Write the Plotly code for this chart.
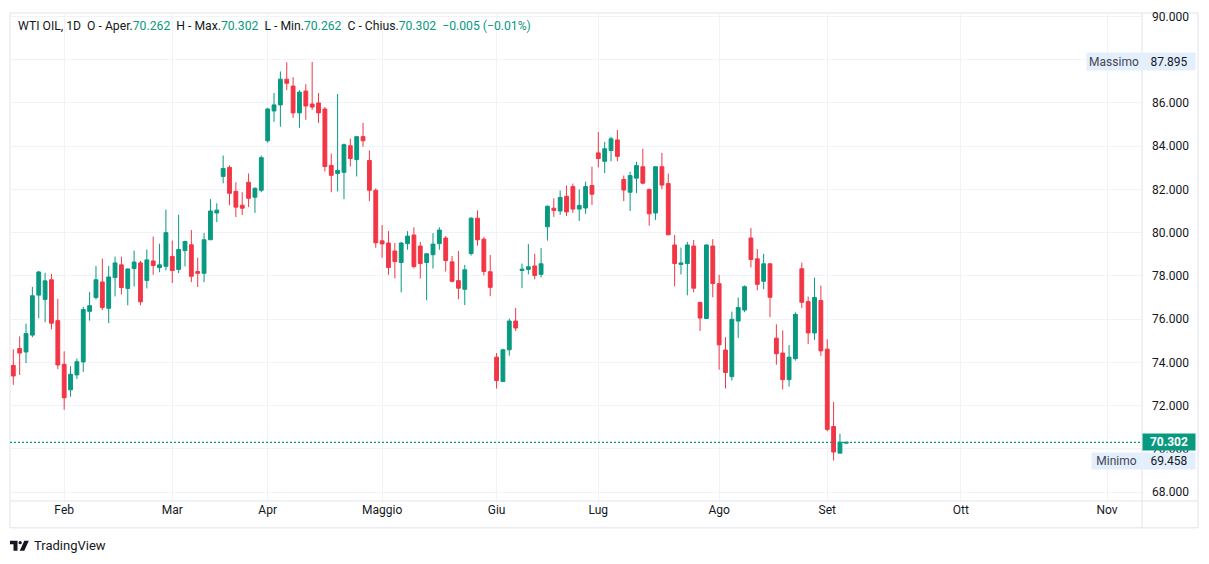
import plotly.graph_objects as go

# ---------------- data ----------------
opens = [73.86, 74.64, 74.48, 75.26, 77.11, 76.91, 77.82, 75.93, 73.91, 72.73,
         73.42, 74.02, 76.36, 77.00, 77.72, 76.50, 77.92, 78.51, 77.42, 78.34,
         78.60, 77.79, 78.69, 78.38, 78.44, 78.90, 78.30, 79.17, 79.44, 78.20,
         78.12, 79.67, 80.91, 82.60, 83.02, 81.91, 81.27, 82.33, 81.64, 81.96,
         84.25, 85.63, 85.91, 87.10, 86.78, 85.54, 86.55, 85.95, 86.00, 85.72,
         83.11, 82.74, 82.79, 84.02, 83.38, 84.44, 83.34, 81.96, 79.62, 79.52,
         79.15, 78.62, 79.49, 79.89, 79.38, 78.62, 78.98, 79.49, 79.75, 78.65,
         77.78, 77.38, 79.03, 80.67, 79.70, 78.19, 74.24, 73.11, 74.58, 75.91,
         78.25, 78.30, 78.46, 78.07, 80.27, 81.13, 81.00, 81.68, 82.13, 81.09,
         81.14, 82.18, 83.69, 83.30, 83.80, 84.29, 82.46, 81.87, 82.52, 83.05,
         82.00, 80.91, 83.05, 82.27, 79.43, 78.53, 78.57, 79.38, 76.77, 76.03,
         79.38, 77.64, 74.57, 73.34, 75.91, 76.42, 79.75, 78.79, 77.75, 78.56,
         75.12, 74.43, 73.20, 74.17, 78.33, 76.81, 75.36, 76.86, 74.61, 71.03,
         69.80, 70.262]
highs = [74.60, 75.20, 75.79, 77.49, 78.23, 78.14, 78.09, 76.94, 74.51, 73.82,
         74.18, 76.57, 77.26, 78.46, 78.80, 78.46, 78.89, 78.89, 78.34, 79.17,
         78.69, 79.22, 79.82, 79.49, 81.06, 79.63, 80.83, 79.63, 80.12, 78.84,
         79.99, 81.55, 81.36, 83.57, 83.11, 82.33, 81.87, 82.74, 82.10, 83.57,
         85.77, 86.46, 87.46, 87.88, 87.19, 86.59, 86.87, 87.895, 86.46, 85.81,
         83.66, 86.41, 84.12, 84.35, 84.44, 85.08, 83.80, 82.05, 80.35, 80.07,
         79.52, 79.57, 80.07, 80.25, 79.57, 79.06, 79.98, 80.25, 79.84, 78.92,
         79.15, 78.51, 80.71, 81.03, 79.80, 78.97, 74.43, 74.63, 76.02, 76.51,
         78.57, 79.47, 79.02, 79.29, 81.26, 81.58, 81.95, 82.18, 82.27, 82.00,
         82.36, 83.05, 84.66, 84.20, 84.43, 84.75, 82.64, 82.82, 83.28, 83.88,
         82.04, 83.05, 83.69, 82.73, 79.89, 79.31, 79.57, 79.66, 76.81, 79.46,
         79.70, 78.05, 75.16, 76.35, 77.00, 77.56, 80.21, 79.24, 79.02, 78.56,
         75.76, 75.48, 74.80, 76.31, 78.61, 77.04, 77.92, 77.55, 75.07, 72.17,
         70.70, 70.302]
lows = [72.96, 73.42, 73.97, 75.16, 76.04, 75.85, 75.53, 73.69, 71.81, 72.41,
        73.23, 73.56, 75.93, 76.91, 76.42, 75.81, 77.05, 77.14, 76.64, 77.51,
        76.64, 77.42, 78.05, 78.17, 78.25, 77.67, 78.13, 78.44, 77.71, 77.48,
        77.71, 79.67, 80.49, 82.28, 81.27, 80.72, 80.81, 81.18, 80.91, 81.87,
        84.16, 85.13, 84.90, 86.59, 85.31, 84.85, 85.22, 85.68, 85.08, 82.83,
        81.87, 81.91, 81.55, 83.06, 82.60, 83.98, 81.46, 79.30, 78.84, 78.05,
        77.88, 77.24, 79.21, 78.35, 77.88, 76.87, 78.34, 79.21, 78.20, 77.70,
        76.92, 76.65, 78.94, 79.40, 78.02, 77.06, 72.79, 73.11, 74.31, 75.45,
        77.43, 78.07, 77.84, 77.93, 79.63, 80.73, 80.82, 80.77, 80.91, 80.54,
        80.87, 81.28, 83.02, 82.75, 83.30, 83.30, 81.46, 81.00, 81.83, 82.24,
        80.32, 80.59, 82.01, 79.90, 77.52, 78.07, 77.10, 77.24, 75.45, 76.00,
        77.01, 73.66, 72.79, 73.16, 75.13, 76.32, 78.39, 77.33, 77.38, 76.09,
        73.89, 72.75, 72.88, 74.08, 76.51, 74.85, 75.04, 74.30, 70.81, 69.458,
        69.80, 70.262]
closes = [73.37, 74.43, 75.33, 77.08, 78.18, 77.77, 75.81, 73.88, 72.36, 73.45,
          74.03, 76.44, 76.62, 77.82, 76.54, 77.95, 78.60, 77.46, 78.32, 78.64,
          76.80, 78.74, 78.48, 78.51, 80.00, 78.25, 79.22, 79.59, 77.98, 78.12,
          79.67, 81.00, 81.04, 82.97, 81.82, 81.18, 81.13, 81.59, 82.05, 83.47,
          85.72, 85.91, 87.10, 86.91, 85.54, 86.50, 85.86, 85.81, 85.54, 83.06,
          82.65, 82.88, 84.07, 83.43, 84.44, 84.25, 81.96, 79.53, 79.48, 78.39,
          78.66, 79.52, 79.84, 78.43, 78.57, 79.02, 79.47, 80.12, 78.71, 77.75,
          77.43, 78.28, 80.67, 79.67, 78.20, 77.47, 73.16, 74.58, 75.91, 75.59,
          78.31, 78.42, 78.02, 78.56, 81.22, 81.03, 81.63, 80.96, 81.09, 81.26,
          82.13, 81.78, 83.43, 83.88, 84.34, 83.53, 81.97, 82.64, 83.10, 82.29,
          80.87, 83.05, 82.20, 79.90, 78.57, 78.60, 79.43, 77.43, 76.05, 79.43,
          77.65, 74.81, 73.53, 75.99, 76.54, 77.50, 78.76, 77.61, 78.56, 77.01,
          74.40, 73.20, 74.24, 76.22, 76.78, 75.36, 77.00, 74.53, 70.90, 69.85,
          70.307, 70.302]

bar_index = list(range(len(opens)))
month_ticks = [8, 25, 40, 58, 76, 92, 111, 128, 149, 172]
month_labels = ["Feb", "Mar", "Apr", "Maggio", "Giu", "Lug", "Ago", "Set", "Ott", "Nov"]
price_ticks = list(range(68, 91, 2))
last_price = 70.302
max_price = 87.895
min_price = 69.458

GREEN = "#089981"
RED = "#F23645"
TXT = "#131722"
GRID = "#f0f3fa"
FRAME = "#e0e3eb"
LBL_BG = "#e3effd"
FONT = "Roboto, sans-serif"

# the page body has an 8px margin: the figure is sized/positioned to compensate
OFF = 8
W, H = 1201, 548
ML, MR, MT, MB = 2, 67, 2, 55
PW = W - ML - MR
PH = H - MT - MB


def px(xp):
    """page pixel x -> paper x"""
    return (xp - OFF - ML) / PW


def py(yp):
    """page pixel y -> paper y"""
    return (H - MB - (yp - OFF)) / PH


fig = go.Figure()
fig.add_trace(go.Candlestick(
    x=bar_index, open=opens, high=highs, low=lows, close=closes,
    increasing=dict(line=dict(color=GREEN, width=1), fillcolor=GREEN),
    decreasing=dict(line=dict(color=RED, width=1), fillcolor=RED),
    whiskerwidth=0, hoverinfo="skip", showlegend=False,
))

shapes = [
    # frame
    dict(type="rect", xref="paper", yref="paper", x0=px(10), x1=px(1198), y0=py(528), y1=py(10),
         line=dict(color=FRAME, width=1), layer="below"),
    dict(type="line", xref="paper", yref="paper", x0=px(1142), x1=px(1142), y0=py(528), y1=py(10),
         line=dict(color=FRAME, width=1)),
    dict(type="line", xref="paper", yref="paper", x0=px(10), x1=px(1198), y0=py(501), y1=py(501),
         line=dict(color=FRAME, width=1)),
    # current price line
    dict(type="line", xref="paper", yref="y", x0=0, x1=1, y0=last_price, y1=last_price,
         line=dict(color=GREEN, width=1.2, dash="2px,2px")),
    # TradingView logo
    dict(type="path", xref="paper", yref="paper",
         path=f"M {px(10)} {py(541)} L {px(17.5)} {py(541)} L {px(17.5)} {py(551)} L {px(13.5)} {py(551)} "
              f"L {px(13.5)} {py(544.5)} L {px(10)} {py(544.5)} Z",
         fillcolor=TXT, line=dict(width=0)),
    dict(type="circle", xref="paper", yref="paper", x0=px(18.5), x1=px(21.8), y0=py(544.6), y1=py(541.3),
         fillcolor=TXT, line=dict(width=0)),
    dict(type="path", xref="paper", yref="paper",
         path=f"M {px(24.3)} {py(541)} L {px(28.8)} {py(541)} L {px(24.3)} {py(551)} L {px(19.8)} {py(551)} Z",
         fillcolor=TXT, line=dict(width=0)),
]

hdr = ("WTI OIL, 1D\u00a0\u00a0O - Aper.<span style='color:%s'>70.262</span>\u00a0\u00a0"
       "H - Max.<span style='color:%s'>70.302</span>\u00a0\u00a0"
       "L - Min.<span style='color:%s'>70.262</span>\u00a0\u00a0"
       "C - Chius.<span style='color:%s'>70.302</span>\u00a0\u00a0"
       "<span style='color:%s'>\u22120.005 (\u22120.01%%)</span>") % (GREEN, GREEN, GREEN, GREEN, GREEN)

annotations = [
    dict(xref="paper", yref="paper", x=px(16), y=py(23), xanchor="left", yanchor="middle",
         text=hdr, showarrow=False, font=dict(family=FONT, size=12.2, color=TXT)),
    # max label
    dict(xref="paper", yref="y", x=px(1114), y=max_price, text="Massimo", showarrow=False,
         xanchor="center", yanchor="middle", bgcolor=LBL_BG, width=54, height=17, borderpad=0,
         font=dict(family=FONT, size=12, color="#434651")),
    dict(xref="paper", yref="y", x=px(1169), y=max_price, text="87.895", showarrow=False,
         xanchor="center", yanchor="middle", bgcolor=LBL_BG, width=52, height=17, borderpad=0,
         font=dict(family=FONT, size=12, color=TXT)),
    # last price
    dict(xref="paper", yref="y", x=px(1169), y=last_price, text="<b>70.302</b>", showarrow=False,
         xanchor="center", yanchor="middle", bgcolor=GREEN, width=52, height=16, borderpad=0,
         font=dict(family=FONT, size=12, color="#ffffff")),
    # min label
    dict(xref="paper", yref="paper", x=px(1116.5), y=py(461), text="Minimo", showarrow=False,
         xanchor="center", yanchor="middle", bgcolor=LBL_BG, width=49, height=16, borderpad=0,
         font=dict(family=FONT, size=12, color="#434651")),
    dict(xref="paper", yref="paper", x=px(1169), y=py(461), text="69.458", showarrow=False,
         xanchor="center", yanchor="middle", bgcolor=LBL_BG, width=52, height=16, borderpad=0,
         font=dict(family=FONT, size=12, color=TXT)),
    # TradingView brand
    dict(xref="paper", yref="paper", x=px(32), y=py(546), xanchor="left", yanchor="middle",
         text="TradingView", showarrow=False, font=dict(family=FONT, size=13, color=TXT)),
]

fig.update_layout(
    width=W, height=H,
    margin=dict(l=ML, r=MR, t=MT, b=MB),
    paper_bgcolor="#ffffff", plot_bgcolor="#ffffff",
    boxgap=0.4, boxgroupgap=0,
    showlegend=False,
    shapes=shapes, annotations=annotations,
    font=dict(family=FONT, size=12, color=TXT),
    xaxis=dict(
        range=[-0.52, 177.5], tickmode="array", tickvals=month_ticks, ticktext=month_labels,
        showgrid=True, gridcolor=GRID, gridwidth=1, zeroline=False, showline=False,
        ticks="", rangeslider=dict(visible=False), fixedrange=True,
        tickfont=dict(family=FONT, size=12, color=TXT),
    ),
    yaxis=dict(
        side="right", range=[67.586, 90.161], tickmode="array", tickvals=price_ticks,
        tickformat=".3f", showgrid=True, gridcolor=GRID, gridwidth=1, zeroline=False,
        showline=False, ticks="", ticklabelstandoff=9, ticklabeloverflow="allow",
        fixedrange=True, tickfont=dict(family=FONT, size=12, color=TXT),
    ),
)

fig.write_html("out.html", config={"displayModeBar": False})
